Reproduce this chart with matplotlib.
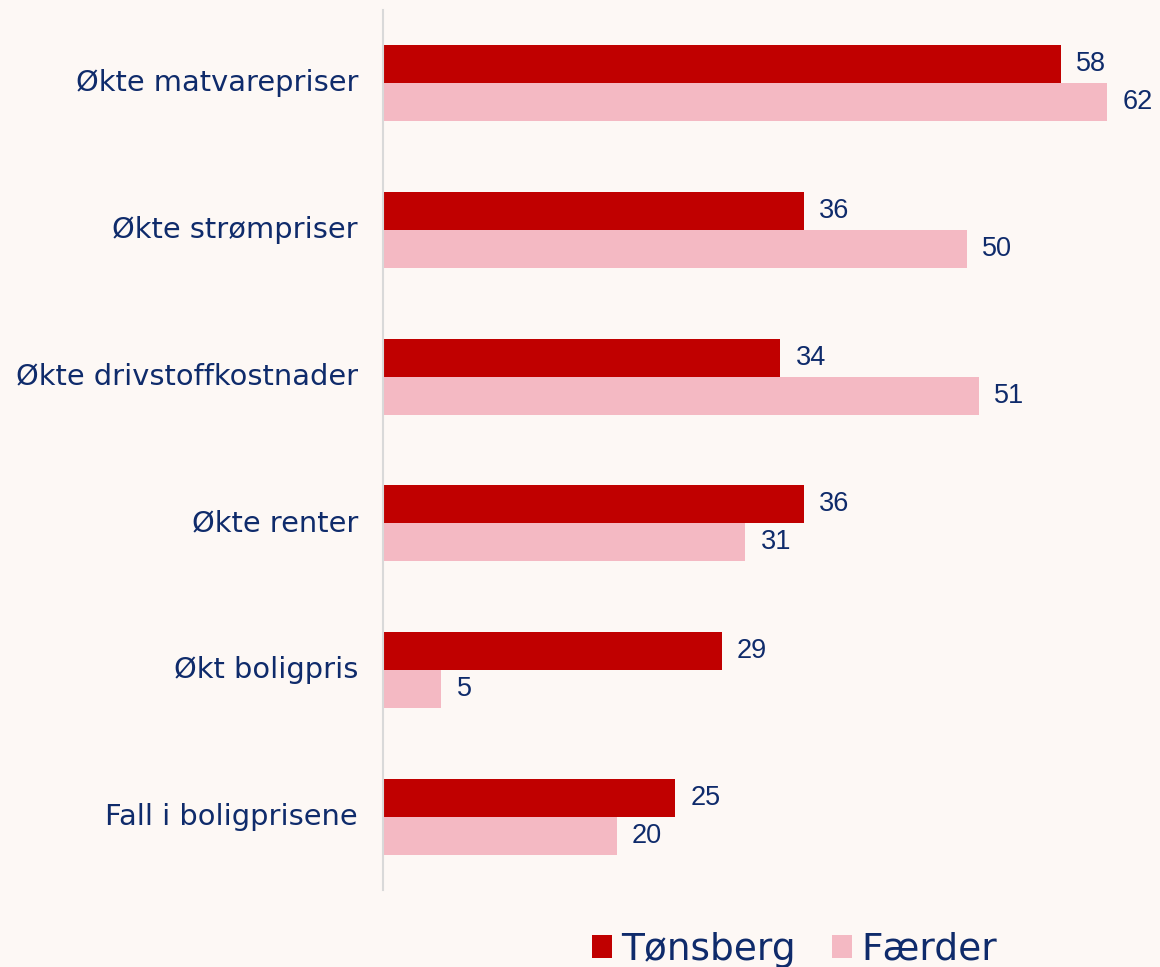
import numpy as np
import matplotlib.pyplot as plt
import matplotlib.transforms as mtransforms
from matplotlib.patches import Patch

categories = ["Økte matvarepriser", "Økte strømpriser", "Økte drivstoffkostnader",
              "Økte renter", "Økt boligpris", "Fall i boligprisene"]
tonsberg = [58, 36, 34, 36, 29, 25]
faerder = [62, 50, 51, 31, 5, 20]
series_names = ["Tønsberg", "Færder"]

BG = "#FDF8F5"
RED = "#C00000"
PINK = "#F4B9C3"
NAVY = "#0F2B6B"
LABEL_FONT = ["DejaVu Sans"]

fig = plt.figure(figsize=(11.6, 9.67), dpi=100, facecolor=BG)
ax = fig.add_axes([383 / 1160, 1 - 890 / 967, 1 - 383 / 1160 - 0.005, 880 / 967])
ax.set_facecolor(BG)

y = np.arange(len(categories))
h = 0.26
ax.barh(y - h / 2, tonsberg, height=h, color=RED)
ax.barh(y + h / 2, faerder, height=h, color=PINK)

# value labels right of each bar
for yi, v in zip(y, tonsberg):
    ax.text(v + 1.3, yi - h / 2, str(v), va="center", ha="left", fontsize=19.5,
            color=NAVY, family="Liberation Sans")
for yi, v in zip(y, faerder):
    ax.text(v + 1.3, yi + h / 2, str(v), va="center", ha="left", fontsize=19.5,
            color=NAVY, family="Liberation Sans")

ax.set_xlim(0, 66)
ax.set_ylim(len(categories) - 0.5, -0.5)
ax.set_yticks(y)
ax.set_yticklabels(categories, fontsize=20.8, color=NAVY, family=LABEL_FONT)
ax.tick_params(axis="y", length=0, pad=18)
# nudge category labels up a few pixels
shift = mtransforms.ScaledTranslation(0, 3 / 100, fig.dpi_scale_trans)
for lab in ax.get_yticklabels():
    lab.set_transform(lab.get_transform() + shift)
ax.set_xticks([])
for s in ["top", "right", "bottom"]:
    ax.spines[s].set_visible(False)
ax.spines["left"].set_color("#D9D9D9")
ax.spines["left"].set_linewidth(1.5)

handles = [Patch(facecolor=RED), Patch(facecolor=PINK)]
fig.legend(handles, series_names, loc="center", bbox_to_anchor=(0.685, 0.018),
           ncol=2, frameon=False, handlelength=0.55, handleheight=0.55,
           handletextpad=0.25, columnspacing=0.95,
           prop={"family": LABEL_FONT, "size": 27}, labelcolor=NAVY)

fig.savefig("out.png", dpi=100, facecolor=BG)
